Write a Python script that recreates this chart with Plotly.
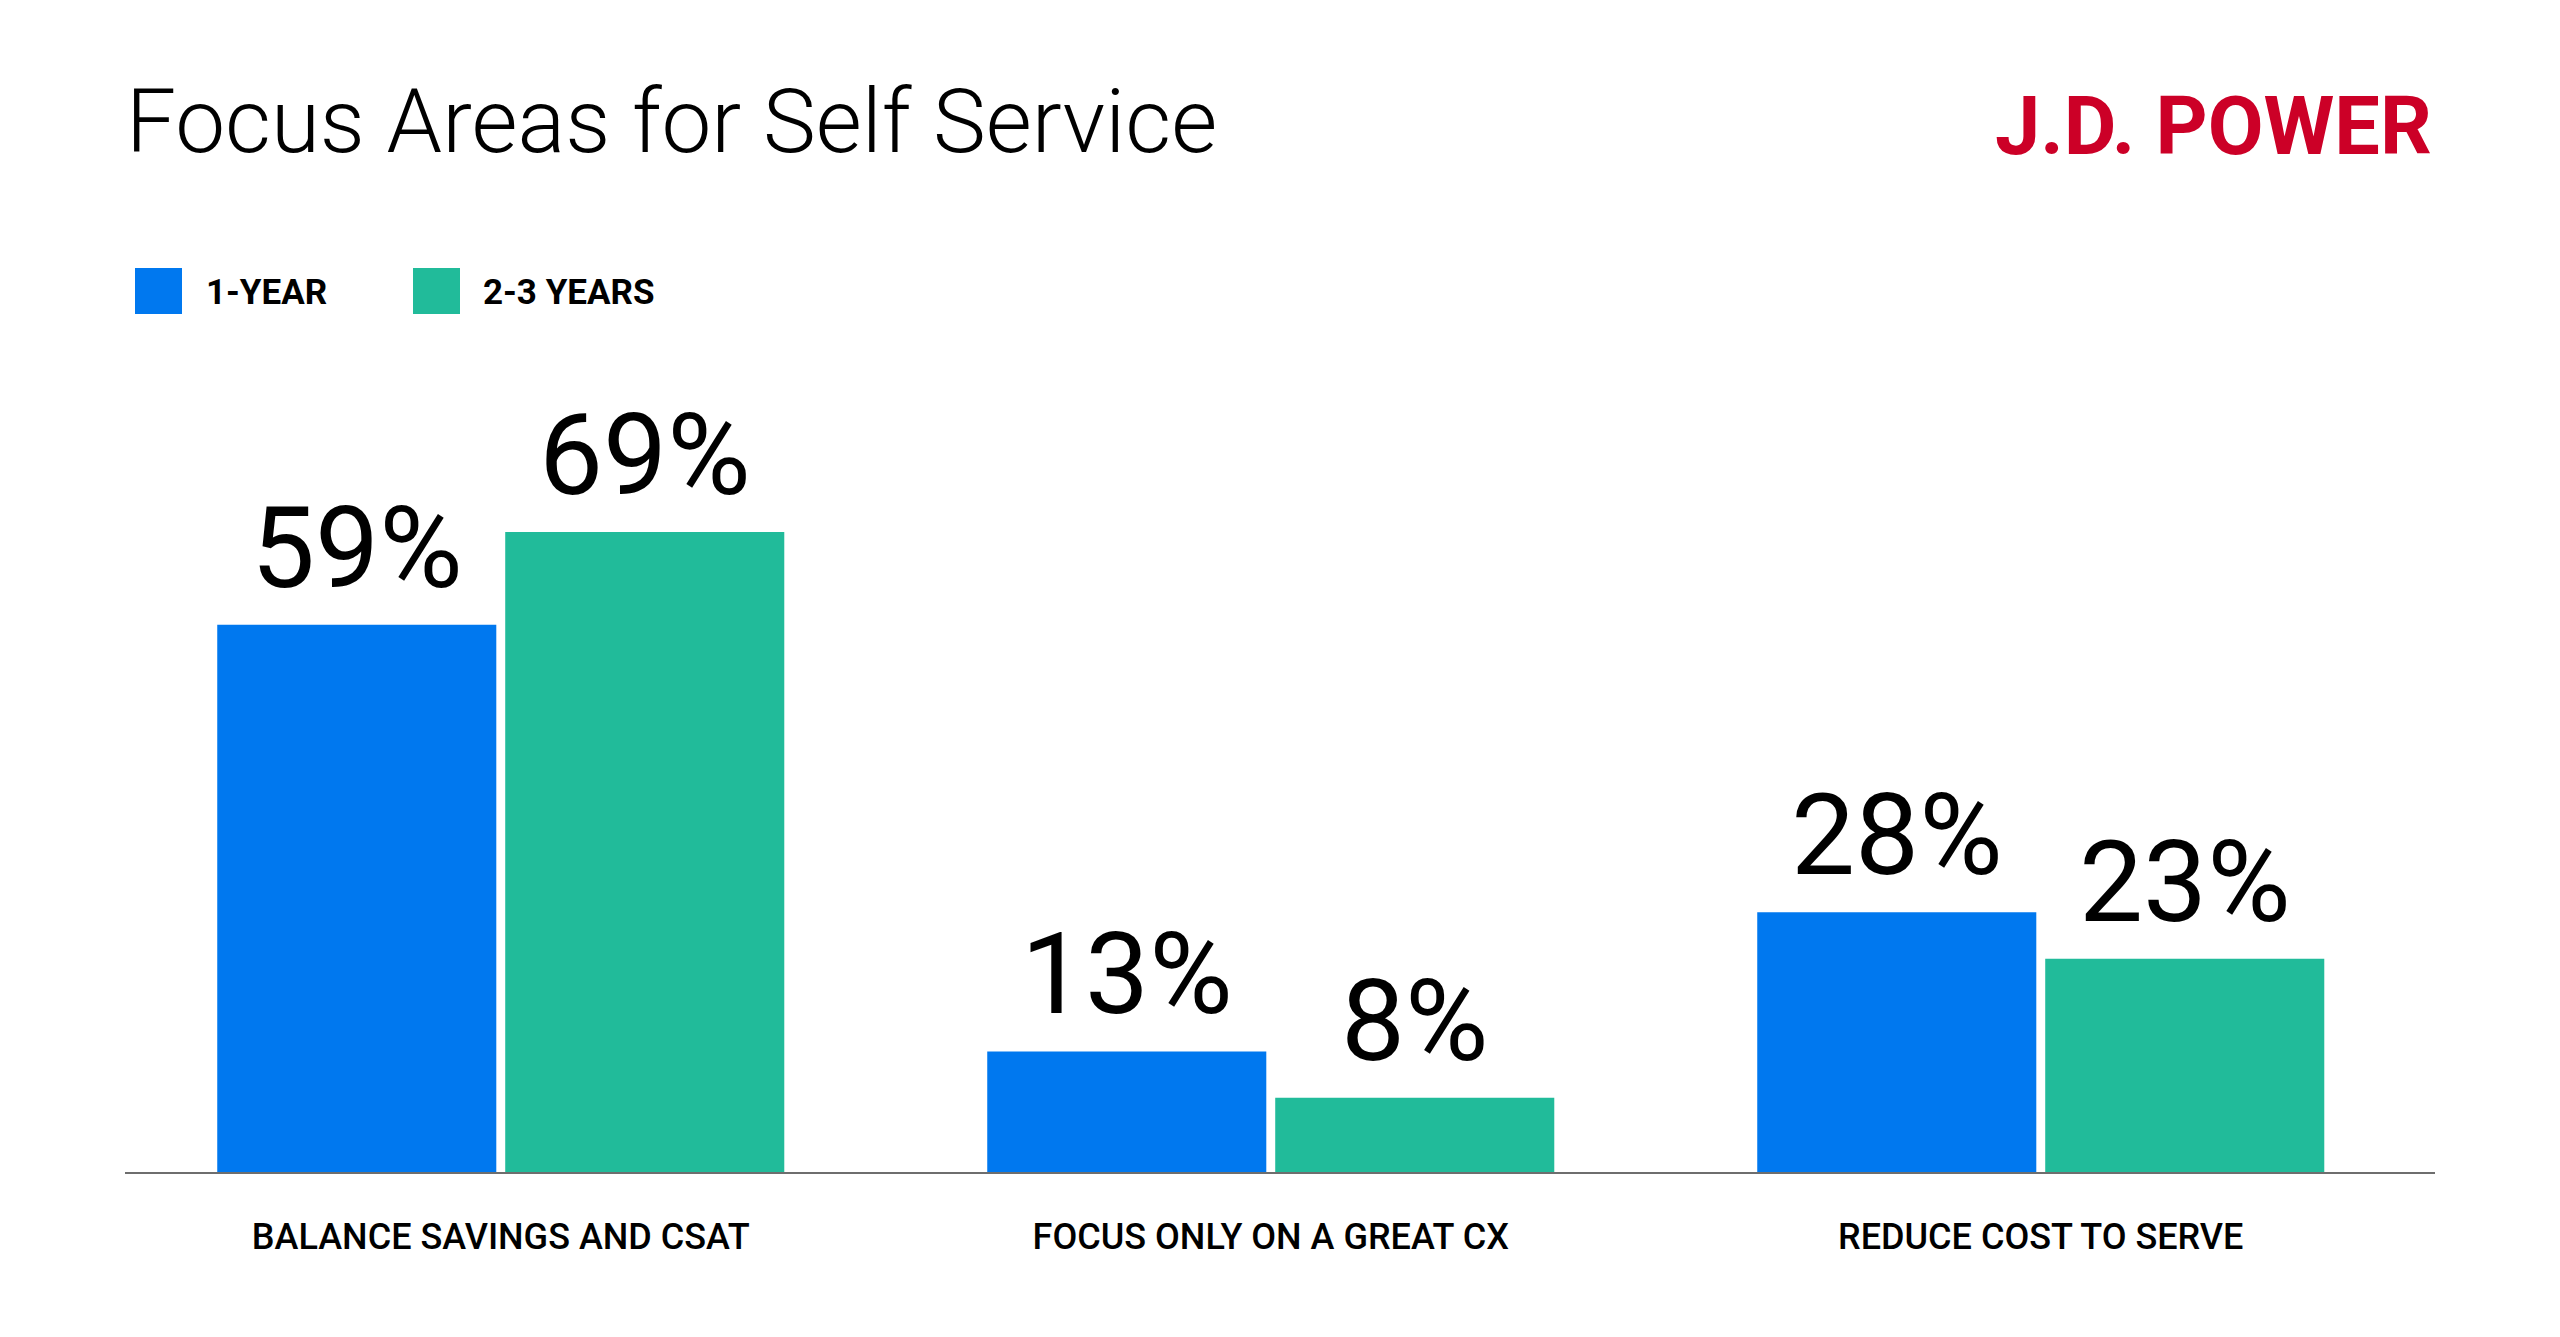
import plotly.graph_objects as go

categories = ["BALANCE SAVINGS AND CSAT", "FOCUS ONLY ON A GREAT CX", "REDUCE COST TO SERVE"]
series_names = ["1-YEAR", "2-3 YEARS"]
one_year = [59, 13, 28]
two_three_years = [69, 8, 23]
colors = ["#0078ef", "#21bb9a"]

# the page puts the figure 8px in from the top-left corner
OFF = 8
W, H = 2560 - OFF, 1337 - OFF
ML, MT = 125 - OFF, 430 - OFF
MR, MB = W - (2435 - OFF), H - (1172 - OFF)
PW, PH = W - ML - MR, H - MT - MB
BARGAP = 0.252


def px_x(x):
    return (x - OFF - ML) / PW


def px_y(y):
    return (H - MB - (y - OFF)) / PH


fig = go.Figure()
for name, vals, col in zip(series_names, [one_year, two_three_years], colors):
    fig.add_trace(go.Bar(x=categories, y=vals, name=name, marker_color=col,
                         marker_line_width=0, hoverinfo="skip"))

# value labels above each bar
slot = (1 - BARGAP) / 2
for k, vals in enumerate([one_year, two_three_years]):
    for i, v in enumerate(vals):
        fig.add_annotation(x=i + (k - 0.5) * slot, y=v, xref="x", yref="y",
                           text=f"{v}%", showarrow=False, yanchor="bottom", yshift=8,
                           font=dict(family="Roboto", size=114, color="#000000", weight=400))

# title and logo
fig.add_annotation(x=px_x(124), y=px_y(121), xref="paper", yref="paper",
                   text="Focus Areas for Self Service", showarrow=False,
                   xanchor="left", yanchor="middle",
                   font=dict(family="Roboto", size=89, color="#000000", weight=300))
fig.add_annotation(x=px_x(2434), y=px_y(126), xref="paper", yref="paper",
                   text="J.D. POWER", showarrow=False,
                   xanchor="right", yanchor="middle",
                   font=dict(family="Roboto", size=81, color="#cc0027", weight=700))

# legend drawn by hand so the swatches can be large
legend_items = [(135, 206), (413, 483)]
for (sx, tx), name, col in zip(legend_items, series_names, colors):
    fig.add_shape(type="rect", xref="paper", yref="paper",
                  x0=px_x(sx), x1=px_x(sx + 47), y0=px_y(268), y1=px_y(314),
                  fillcolor=col, line_width=0)
    fig.add_annotation(x=px_x(tx - 2), y=px_y(292), xref="paper", yref="paper",
                       text=name, showarrow=False, xanchor="left", yanchor="middle",
                       font=dict(family="Roboto", size=35, color="#000000", weight=700))

fig.update_layout(
    width=W, height=H,
    margin=dict(l=ML, r=MR, t=MT, b=MB),
    barmode="group", bargap=BARGAP, bargroupgap=0.031,
    plot_bgcolor="white", paper_bgcolor="white",
    showlegend=False,
    xaxis=dict(range=[-0.488, 2.512], showline=True, linecolor="#6e6e6e", linewidth=2,
               ticks="", ticklabelstandoff=32, showgrid=False, zeroline=False,
               tickfont=dict(family="Roboto", size=36, color="#000000", weight=500)),
    yaxis=dict(range=[0, 80], visible=False, showgrid=False, zeroline=False),
)

fig.write_html("out.html")
